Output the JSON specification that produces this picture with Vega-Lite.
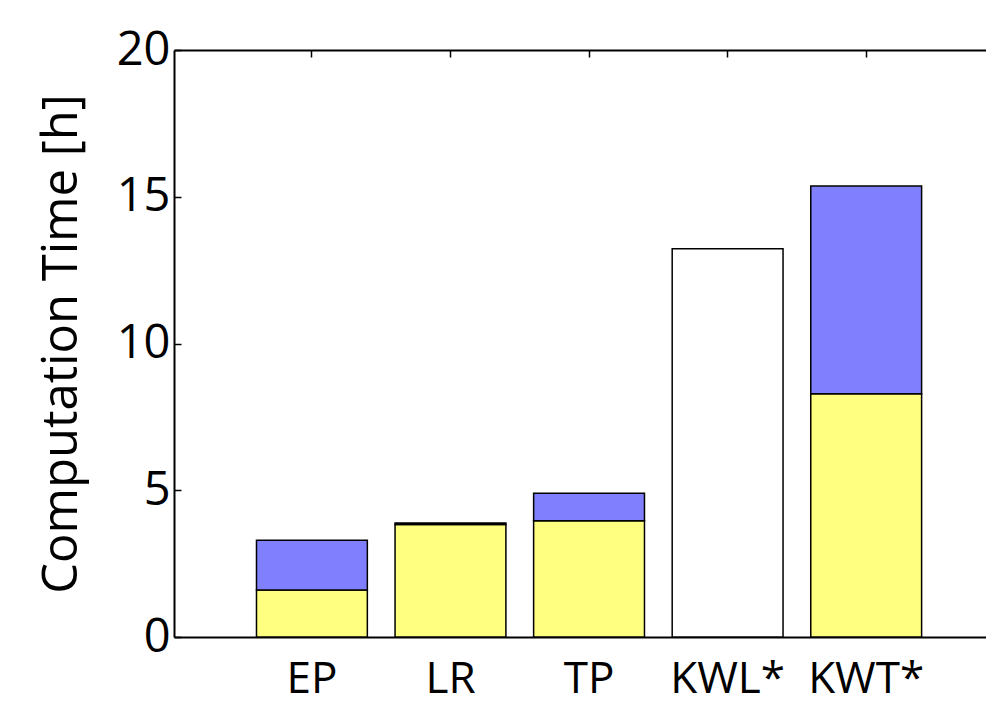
{
  "$schema": "https://vega.github.io/schema/vega-lite/v6.json",
  "autosize": {"type": "none"},
  "padding": {"left": 174, "top": 50, "right": 0, "bottom": 66},
  "width": 812,
  "height": 587,
  "background": "white",
  "config": {
    "view": {"stroke": null},
    "font": "Open Sans",
    "axis": {"domainColor": "black", "domainWidth": 2, "tickColor": "black", "tickWidth": 1.5, "labelColor": "black", "titleColor": "black", "grid": false, "labelFont": "Open Sans", "titleFont": "Open Sans", "titleFontWeight": "normal"}
  },
  "data": {
    "values": [
      {"method": "EP", "part": "a", "order": 1, "value": 1.6},
      {"method": "EP", "part": "b", "order": 2, "value": 1.7},
      {"method": "LR", "part": "a", "order": 1, "value": 3.83},
      {"method": "LR", "part": "b", "order": 2, "value": 0.05},
      {"method": "TP", "part": "a", "order": 1, "value": 3.96},
      {"method": "TP", "part": "b", "order": 2, "value": 0.94},
      {"method": "KWL*", "part": "c", "order": 1, "value": 13.23},
      {"method": "KWT*", "part": "a", "order": 1, "value": 8.29},
      {"method": "KWT*", "part": "b", "order": 2, "value": 7.08}
    ]
  },
  "layer": [
    {
      "mark": {"type": "bar", "stroke": "black", "strokeWidth": 1.5},
      "encoding": {
        "x": {
          "field": "method", "type": "nominal", "sort": ["EP", "LR", "TP", "KWL*", "KWT*"],
          "scale": {"paddingInner": 0.2, "paddingOuter": 0.53, "align": 0.5616},
          "axis": {"orient": "bottom", "title": null, "labelAngle": 0, "ticks": false, "labelFontSize": 44, "labelPadding": 20, "domainWidth": 2}
        },
        "y": {
          "field": "value", "type": "quantitative", "aggregate": "sum", "stack": "zero",
          "scale": {"domain": [0, 20], "nice": false, "zero": true},
          "axis": {"values": [0, 5, 10, 15, 20], "title": "Computation Time [h]", "titleFontSize": 49, "labelFontSize": 47, "tickSize": -7, "labelPadding": 11, "titlePadding": 30}
        },
        "color": {
          "field": "part", "type": "nominal",
          "scale": {"domain": ["a", "b", "c"], "range": ["#FFFF80", "#8080FF", "#FFFFFF"]},
          "legend": null
        },
        "order": {"field": "order", "type": "quantitative"}
      }
    },
    {
      "mark": {"type": "bar", "opacity": 0},
      "encoding": {
        "x": {
          "field": "method", "type": "nominal", "sort": ["EP", "LR", "TP", "KWL*", "KWT*"],
          "axis": {"orient": "top", "title": null, "labels": false, "tickSize": -7, "domainWidth": 2}
        }
      }
    }
  ],
  "resolve": {"axis": {"x": "independent"}}
}
